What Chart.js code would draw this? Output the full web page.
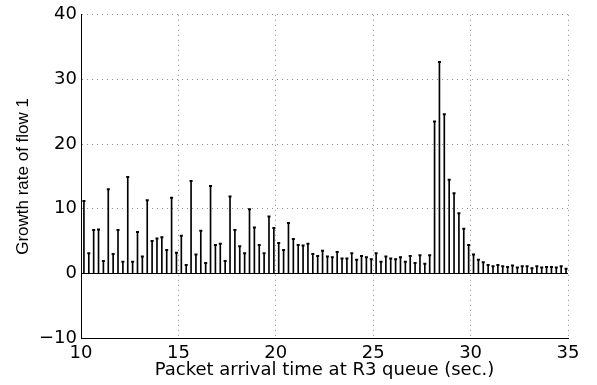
<!DOCTYPE html>
<html>
<head>
<meta charset="utf-8">
<script src="https://cdn.jsdelivr.net/npm/chart.js@4"></script>
<style>
  html, body { margin: 0; padding: 0; background: #fff; }
  #wrap { width: 597px; height: 385px; }
</style>
</head>
<body>
<div id="wrap"><canvas id="chart" width="597" height="385"></canvas></div>
<script>
// packet arrival times (sec.)
const times = [
  10.15, 10.40, 10.65, 10.90, 11.15, 11.40, 11.65, 11.90, 12.15, 12.40,
  12.65, 12.90, 13.15, 13.40, 13.65, 13.90, 14.15, 14.40, 14.65, 14.90,
  15.15, 15.40, 15.65, 15.90, 16.15, 16.40, 16.65, 16.90, 17.15, 17.40,
  17.65, 17.90, 18.15, 18.40, 18.65, 18.90, 19.15, 19.40, 19.65, 19.90,
  20.15, 20.40, 20.65, 20.90, 21.15, 21.40, 21.65, 21.90, 22.15, 22.40,
  22.65, 22.90, 23.15, 23.40, 23.65, 23.90, 24.15, 24.40, 24.65, 24.90,
  25.15, 25.40, 25.65, 25.90, 26.15, 26.40, 26.65, 26.90, 27.15, 27.40,
  27.65, 27.90, 28.15, 28.40, 28.65, 28.90, 29.15, 29.40, 29.65, 29.90,
  30.15, 30.40, 30.65, 30.90, 31.15, 31.40, 31.65, 31.90, 32.15, 32.40,
  32.65, 32.90, 33.15, 33.40, 33.65, 33.90, 34.15, 34.40, 34.65, 34.90
];

// growth rate of flow 1
const growthRate = [
  11.2, 3.1, 6.7, 6.8, 1.9, 13.0, 3.0, 6.7, 1.8, 14.9,
  1.8, 6.4, 2.6, 11.3, 5.0, 5.4, 5.6, 3.6, 11.7, 3.2,
  5.8, 1.3, 14.3, 2.9, 6.6, 1.6, 13.5, 4.4, 4.6, 1.9,
  11.9, 6.7, 4.2, 3.1, 9.9, 7.1, 4.4, 3.1, 8.8, 7.0,
  4.7, 3.6, 7.8, 5.3, 4.4, 4.3, 4.6, 3.0, 2.7, 3.5,
  2.6, 2.5, 3.3, 2.3, 2.3, 3.1, 2.1, 2.7, 2.5, 2.2,
  3.1, 1.8, 2.6, 2.3, 2.2, 2.5, 1.8, 2.7, 1.6, 2.8,
  1.5, 2.8, 23.5, 32.7, 24.6, 14.5, 12.4, 9.3, 6.9, 4.4,
  2.9, 2.1, 1.7, 1.3, 1.1, 1.3, 1.1, 1.0, 1.2, 0.9,
  1.1, 1.1, 0.8, 1.1, 0.9, 1.0, 1.0, 0.9, 1.1, 0.7
];

const xTicks = [10, 15, 20, 25, 30, 35];
const yTicks = [-10, 0, 10, 20, 30, 40];

const points = times.map((t, i) => ({ x: t, y: growthRate[i] }));
const FONT = "'Liberation Sans', Arial, Helvetica, sans-serif";
const WIDE = "'DejaVu Sans', sans-serif";

// solid stem baseline at y = 0, like matlab's stem()
const baseline = {
  id: 'baseline',
  beforeDatasetsDraw(chart) {
    const { ctx, chartArea, scales } = chart;
    const y = Math.round(scales.y.getPixelForValue(0)) + 0.5;
    ctx.save();
    ctx.strokeStyle = '#000';
    ctx.lineWidth = 1;
    ctx.beginPath();
    ctx.moveTo(chartArea.left, y);
    ctx.lineTo(chartArea.right, y);
    ctx.stroke();
    ctx.restore();
  }
};

const ctx = document.getElementById('chart').getContext('2d');

const chart = new Chart(ctx, {
  type: 'bar',
  data: {
    datasets: [
      {
        label: 'stems',
        data: points,
        backgroundColor: '#000',
        borderWidth: 0,
        barThickness: 1,
        order: 2
      },
      {
        type: 'scatter',
        label: 'caps',
        data: points,
        pointStyle: 'line',
        pointRadius: 1.5,
        borderColor: '#000',
        borderWidth: 2,
        showLine: false,
        order: 1
      }
    ]
  },
  options: {
    responsive: false,
    animation: false,
    layout: { padding: { top: 13, right: 29, left: 0, bottom: 0 } },
    plugins: {
      legend: { display: false },
      tooltip: { enabled: false }
    },
    scales: {
      x: {
        type: 'linear',
        min: 10,
        max: 35,
        offset: false,
        afterBuildTicks: (s) => { s.ticks = xTicks.map(v => ({ value: v })); },
        afterFit: (s) => { s.height = 47; },
        grid: { color: '#8a8a8a', lineWidth: 1, drawTicks: false, offset: false },
        border: { display: true, color: '#000', width: 1, dash: [1, 4] },
        ticks: { color: '#000', font: { family: WIDE, size: 18 }, padding: 5, maxRotation: 0 },
        title: {
          display: true,
          text: 'Packet arrival time at R3 queue (sec.)',
          color: '#000',
          font: { family: WIDE, size: 18 },
          padding: { top: 0, bottom: 4 }
        }
      },
      y: {
        min: -10,
        max: 40,
        afterBuildTicks: (s) => { s.ticks = yTicks.map(v => ({ value: v })); },
        afterFit: (s) => { s.width = 81; },
        grid: { color: '#8a8a8a', lineWidth: 1, drawTicks: false },
        border: { display: true, color: '#000', width: 1, dash: [1, 4] },
        ticks: {
          color: '#000',
          font: { family: WIDE, size: 18 },
          padding: 4,
          callback: (v) => (v < 0 ? '\u2212' + Math.abs(v) : String(v))
        },
        title: {
          display: true,
          text: 'Growth rate of flow 1',
          color: '#000',
          font: { family: FONT, size: 17 },
          padding: { top: 13, bottom: 0 }
        }
      }
    }
  },
  plugins: [baseline]
});
</script>
</body>
</html>
